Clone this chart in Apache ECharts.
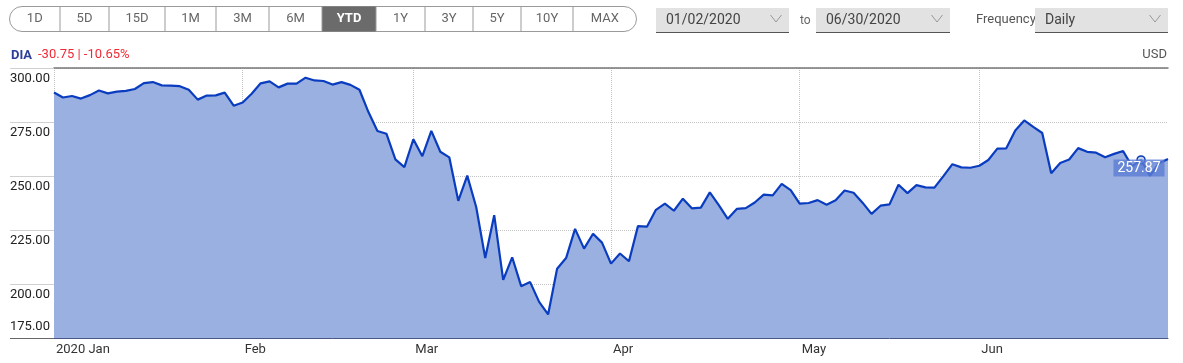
<!DOCTYPE html>
<html><head><meta charset="utf-8">
<script src="https://cdn.jsdelivr.net/npm/echarts@6/dist/echarts.min.js"></script>
<style>html,body{margin:0;padding:0;background:#fff}#c{width:1183px;height:363px}</style>
</head><body><div id="c"></div>
<script>
const FONT = "'Liberation Sans Narrow','Roboto','Liberation Sans',sans-serif";

// ---- data ----
const ticker = 'DIA';
const currency = 'USD';
const year = 2020;
const monthLabels = ['2020 Jan', 'Feb', 'Mar', 'Apr', 'May', 'Jun'];
const janDays = [2,3,6,7,8,9,10,13,14,15,16,17,21,22,23,24,27,28,29,30,31];
const febDays = [3,4,5,6,7,10,11,12,13,14,18,19,20,21,24,25,26,27,28];
const marDays = [2,3,4,5,6,9,10,11,12,13,16,17,18,19,20,23,24,25,26,27,30,31];
const aprDays = [1,2,3,6,7,8,9,13,14,15,16,17,20,21,22,23,24,27,28,29,30];
const mayDays = [1,4,5,6,7,8,11,12,13,14,15,18,19,20,21,22,26,27,28,29];
const junDays = [1,2,3,4,5,8,9,10,11,12,15,16,17,18,19,22,23,24,25,26,29,30];

const janClose = [288.62,286.35,287.03,285.84,287.45,289.57,288.24,289.07,289.40,290.30,292.98,293.48,291.96,291.86,291.60,289.90,285.36,287.23,287.34,288.59,282.56];
const febClose = [284.00,288.08,292.91,293.80,291.03,292.77,292.76,295.51,294.23,293.98,292.32,293.48,292.20,289.92,279.61,270.81,269.58,257.67,254.09];
const marClose = [267.03,259.17,270.91,261.21,258.65,238.51,250.18,235.53,212.01,231.86,201.89,212.37,198.99,200.87,191.74,185.92,207.05,212.01,225.52,216.37,223.27,219.17];
const aprClose = [209.44,214.13,210.53,226.80,226.54,234.34,237.19,233.91,239.50,235.04,235.38,242.42,236.50,230.19,234.76,235.15,237.75,241.34,241.02,246.34,243.46];
const mayClose = [237.24,237.50,238.83,236.65,238.76,243.31,242.22,237.65,232.48,236.25,236.85,245.97,242.07,245.76,244.74,244.65,249.95,255.48,254.01,253.83];
const junClose = [254.75,257.43,262.70,262.82,271.11,275.72,272.72,269.90,251.28,256.06,257.63,262.90,261.20,260.80,258.71,260.25,261.56,254.46,257.46,250.16,255.96,257.87];

const yMin = 175, yMax = 300, yStep = 25;
const rangeButtons = ['1D','5D','15D','1M','3M','6M','YTD','1Y','3Y','5Y','10Y','MAX'];
const activeRange = 'YTD';
const frequency = 'Daily';
const markerIndex = 121;

// ---- build ----
const monthDays = [janDays, febDays, marDays, aprDays, mayDays, junDays];
const monthClose = [janClose, febClose, marClose, aprClose, mayClose, junClose];
const pad = n => String(n).padStart(2, '0');
const dates = [], values = [], monthOf = [], monthStart = new Set();
monthDays.forEach((days, m) => {
  days.forEach((d, i) => {
    if (i === 0) monthStart.add(dates.length);
    dates.push(year + '-' + pad(m + 1) + '-' + pad(d));
    values.push(monthClose[m][i]);
    monthOf.push(m);
  });
});
const first = values[0], last = values[values.length - 1];
const chg = last - first, pct = chg / first * 100;
const fmtDate = s => { const p = s.split('-'); return p[1] + '/' + p[2] + '/' + p[0]; };

// ---- toolbar graphics ----
const edges = [9.5,60,109,165,216,269,322,376,425,473,521,573,636.5];
const g = [];
const T = (x, y, text, font, fill, align) => ({type:'text', x:x, y:y, style:{text:text, font:font, fill:fill, align:align, verticalAlign:'middle', textAlign:align, textVerticalAlign:'middle'}});
g.push({type:'rect', shape:{x:9.5,y:6.5,width:627,height:25,r:12.5}, style:{fill:'#fff', stroke:'#9a9a9a', lineWidth:1}});
rangeButtons.forEach((b, i) => {
  const x0 = edges[i], x1 = edges[i+1];
  if (b === activeRange) g.push({type:'rect', shape:{x:x0,y:6.5,width:x1-x0,height:25}, style:{fill:'#6b6b6b'}});
  if (i > 0) g.push({type:'line', shape:{x1:x0,y1:6.5,x2:x0,y2:31.5}, style:{stroke:'#9a9a9a', lineWidth:1}});
  g.push(T((x0+x1)/2, 19, b, (b===activeRange?'bold ':'')+'13px '+FONT, b===activeRange?'#fff':'#666', 'center'));
});
function selectBox(x, w, txt) {
  g.push({type:'rect', shape:{x:x,y:8,width:w,height:24}, style:{fill:'#e2e2e2'}});
  g.push({type:'line', shape:{x1:x,y1:32.5,x2:x+w,y2:32.5}, style:{stroke:'#555', lineWidth:1.2}});
  g.push(T(x+10, 20, txt, '14px '+FONT, '#444', 'left'));
  const cx = x + w - 13;
  g.push({type:'polyline', shape:{points:[[cx-5.5,15],[cx,22],[cx+5.5,15]]}, style:{stroke:'#999', lineWidth:1, fill:null}});
}
selectBox(656, 133, fmtDate(dates[0]));
g.push(T(800, 21, 'to', '12px '+FONT, '#666', 'left'));
selectBox(816, 134, fmtDate(dates[dates.length-1]));
g.push(T(976, 20, 'Frequency', '13px '+FONT, '#555', 'left'));
selectBox(1035, 133, frequency);
// header
g.push(T(11, 56, ticker, 'bold 13px '+FONT, '#2d3d9a', 'left'));
g.push(T(38, 55, chg.toFixed(2) + ' | ' + pct.toFixed(2) + '%', '13px '+FONT, '#ee2a36', 'left'));
g.push(T(1167, 55, currency, '13px '+FONT, '#555', 'right'));
// darker left margin rule at the axis bottom
g.push({type:'line', shape:{x1:10,y1:338.5,x2:54,y2:338.5}, style:{stroke:'#666', lineWidth:1}, z:10});

const isMonthStart = idx => monthStart.has(idx);

const chart = echarts.init(document.getElementById('c'), null, {renderer:'canvas'});
chart.setOption({
  animation: false,
  graphic: {elements: g},
  grid: {left:54, right:15, top:68, bottom:25, containLabel:false},
  xAxis: [{
    type:'category', data:dates, boundaryGap:false,
    axisLine:{show:true, lineStyle:{color:'#4a5688', width:1}},
    axisTick:{show:false},
    axisLabel:{interval:(i)=>isMonthStart(i), align:'left', margin:5, padding:[0,0,0,2],
      fontFamily:FONT, fontSize:13, color:'#333',
      formatter:(v, i) => monthLabels[monthOf[i]]},
    splitLine:{show:true, interval:(i)=>isMonthStart(i), lineStyle:{type:'dotted', color:'#c4c4c4', width:1}}
  },{
    type:'category', data:dates, boundaryGap:false, position:'top',
    axisLine:{show:true, lineStyle:{color:'#777', width:1.5}},
    axisTick:{show:false}, axisLabel:{show:false}, splitLine:{show:false}
  }],
  yAxis: {
    type:'value', min:yMin, max:yMax, interval:yStep,
    axisLine:{show:false},
    axisTick:{show:true, length:44, lineStyle:{color:'#d0d0d0'}},
    splitLine:{show:true, lineStyle:{type:'dotted', color:'#c4c4c4', width:1}},
    axisLabel:{align:'left', margin:44,
      formatter:v => (v === yMin ? '{b|' : '{a|') + v.toFixed(2) + '}',
      rich:{
        a:{padding:[21,0,0,0], fontFamily:FONT, fontSize:13, color:'#222'},
        b:{padding:[0,0,22,0], fontFamily:FONT, fontSize:13, color:'#222'}
      }}
  },
  series: [{
    type:'line', data:values, xAxisIndex:0, symbol:'none', z:3,
    lineStyle:{color:'#0a3cbf', width:2.2},
    areaStyle:{color:'#99b0e1', opacity:1, origin:'start'},
    markPoint:{
      silent:true,
      data:[
        {coord:[dates[dates.length-1], last], symbol:'rect', symbolSize:0,
          label:{show:true, position:'inside', offset:[-29,9], formatter:last.toFixed(2),
            color:'#fff', backgroundColor:'rgba(92,125,212,0.8)', padding:[2,4,1,4],
            fontFamily:FONT, fontSize:14}},
        {coord:[dates[markerIndex], values[markerIndex]], symbol:'circle', symbolSize:8,
          itemStyle:{color:'rgba(160,182,228,0.6)', borderColor:'#0b3db8', borderWidth:1.5},
          label:{show:false}}
      ]
    }
  }]
});
</script>
</body></html>
